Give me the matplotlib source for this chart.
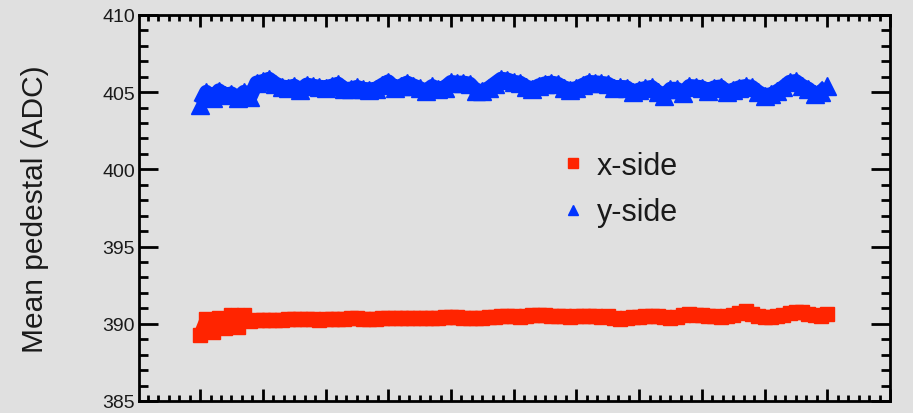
import numpy as np
import matplotlib
matplotlib.use('Agg')
from matplotlib import pyplot as plt
from matplotlib.lines import Line2D
from matplotlib.ticker import MultipleLocator, NullFormatter

# time axis (arbitrary units, no labels shown in the original)
time = np.arange(101) * 0.1

x_side = [389.3, 390.3, 389.5, 390.4, 389.7, 390.6, 389.8, 390.6, 390.2, 390.25,
          390.25, 390.25, 390.27, 390.27, 390.3, 390.3, 390.28, 390.3, 390.3, 390.27,
          390.3, 390.32, 390.3, 390.33, 390.35, 390.38, 390.33, 390.28, 390.3, 390.36,
          390.38, 390.35, 390.38, 390.4, 390.35, 390.38, 390.4, 390.38, 390.38, 390.42,
          390.46, 390.46, 390.4, 390.38, 390.35, 390.4, 390.42, 390.45, 390.52, 390.52,
          390.5, 390.46, 390.48, 390.55, 390.59, 390.55, 390.53, 390.52, 390.48, 390.46,
          390.5, 390.53, 390.53, 390.5, 390.46, 390.48, 390.4, 390.31, 390.35, 390.42,
          390.46, 390.5, 390.52, 390.48, 390.42, 390.38, 390.45, 390.55, 390.63, 390.6,
          390.55, 390.52, 390.48, 390.45, 390.48, 390.55, 390.68, 390.8, 390.65, 390.5,
          390.45, 390.41, 390.5, 390.6, 390.68, 390.78, 390.75, 390.62, 390.58, 390.53,
          390.62]

y_side = [404.2, 405.0, 404.6, 405.1, 404.8, 404.9, 404.6, 405.0, 404.7, 405.6,
          405.7, 405.85, 405.55, 405.35, 405.3, 405.4, 405.16, 405.47, 405.4, 405.33,
          405.3, 405.4, 405.53, 405.2, 405.2, 405.32, 405.2, 405.16, 405.2, 405.45,
          405.68, 405.3, 405.4, 405.6, 405.42, 405.25, 405.06, 405.38, 405.2, 405.3,
          405.64, 405.6, 405.6, 405.53, 405.1, 405.06, 405.25, 405.55, 405.85, 405.8,
          405.65, 405.6, 405.35, 405.2, 405.42, 405.55, 405.6, 405.53, 405.3, 405.16,
          405.25, 405.45, 405.64, 405.62, 405.58, 405.53, 405.3, 405.32, 405.3, 405.0,
          405.15, 405.25, 405.32, 405.0, 404.77, 405.2, 405.2, 404.94, 405.38, 405.35,
          405.3, 405.1, 405.3, 405.35, 405.0, 405.15, 405.3, 405.38, 405.32, 405.0,
          404.77, 404.85, 405.05, 405.32, 405.65, 405.7, 405.4, 405.2, 404.85, 405.0,
          405.4]

labels = ['x-side', 'y-side']
colors = ['#ff2400', '#0033ff']

BG = '#e0e0e0'
TXT = '#1a1a1a'

plt.rcParams['font.family'] = ['Liberation Sans', 'DejaVu Sans']

fig = plt.figure(figsize=(9.13, 4.14), dpi=100, facecolor=BG)
ax = fig.add_axes([0.1523, 0.029, 0.8225, 0.9325], facecolor=BG)

ax.plot(time, x_side, color=colors[0], lw=9.5, marker='s', ms=10,
        solid_joinstyle='round', solid_capstyle='butt', zorder=3)
ax.plot(time, y_side, color=colors[1], lw=10.5, marker='^', ms=13,
        solid_joinstyle='round', solid_capstyle='butt', zorder=3)

ax.set_xlim(-0.973, 11.0)
ax.set_ylim(385, 410)

ax.xaxis.set_major_locator(MultipleLocator(1))
ax.xaxis.set_minor_locator(MultipleLocator(1 / 6))
ax.xaxis.set_major_formatter(NullFormatter())
ax.yaxis.set_major_locator(MultipleLocator(5))
ax.yaxis.set_minor_locator(MultipleLocator(1))

for s in ax.spines.values():
    s.set_linewidth(2.0)
    s.set_color('black')

ax.tick_params(axis='x', which='both', direction='in', top=True, bottom=True,
               width=2.0, color='black')
ax.tick_params(axis='x', which='major', length=8.6)
ax.tick_params(axis='x', which='minor', length=4.3)
ax.tick_params(axis='y', which='both', direction='in', left=True, right=True,
               width=2.0, color='black')
ax.tick_params(axis='y', which='major', length=13.5, labelsize=14,
               labelcolor=TXT, pad=3)
ax.tick_params(axis='y', which='minor', length=6.5)

ax.set_ylabel('Mean pedestal (ADC)', fontsize=21.5, color=TXT, labelpad=38)

handles = [Line2D([], [], ls='none', marker='s', ms=6.5, color=colors[0]),
           Line2D([], [], ls='none', marker='^', ms=6.5, color=colors[1])]
ax.legend(handles, labels, loc='center left', bbox_to_anchor=(0.557, 0.549),
          frameon=False, fontsize=22, handlelength=1.0, handletextpad=0.3,
          labelspacing=0.55, borderpad=0, borderaxespad=0, labelcolor=TXT)

fig.savefig('out.png', dpi=100, facecolor=BG)
